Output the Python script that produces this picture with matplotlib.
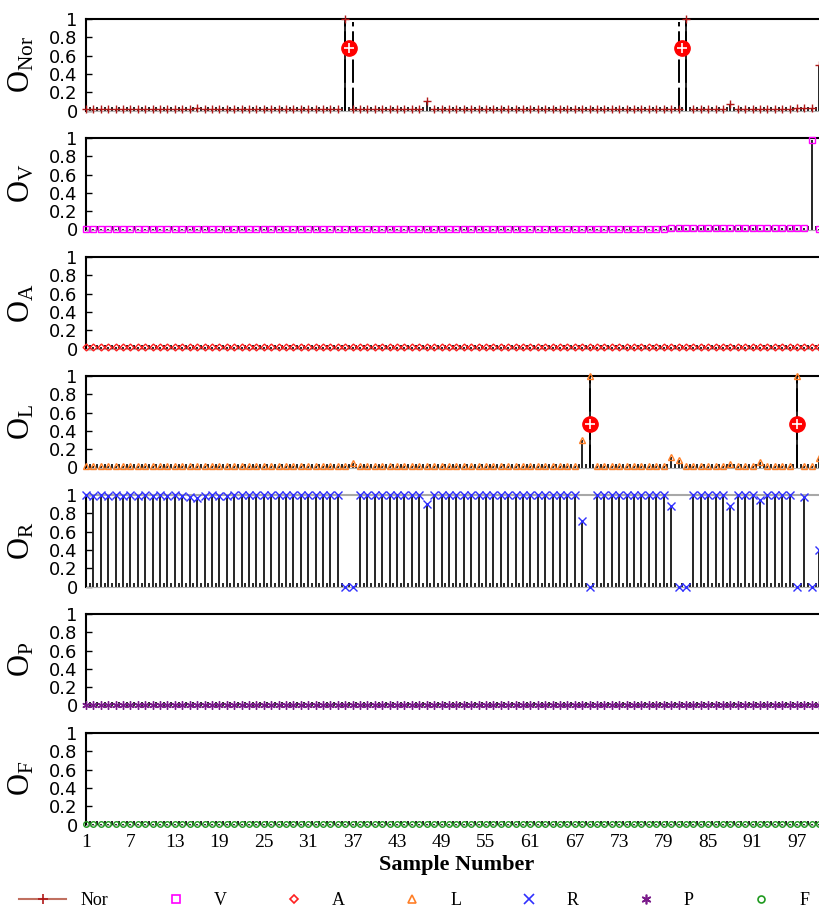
import matplotlib.pyplot as plt
import numpy as np
from matplotlib.lines import Line2D

plt.rcParams['font.family'] = ['Liberation Serif', 'DejaVu Serif']
plt.rcParams['mathtext.fontset'] = 'custom'
plt.rcParams['mathtext.rm'] = 'Liberation Serif'
plt.rcParams['mathtext.it'] = 'Liberation Serif'

# network outputs for each class, samples 1..100
samples = np.arange(1, 101)

nor_out = [0.02, 0.02, 0.02, 0.02, 0.02, 0.02, 0.02, 0.02, 0.02, 0.02,
           0.02, 0.02, 0.02, 0.02, 0.02, 0.03, 0.02, 0.02, 0.02, 0.02,
           0.02, 0.02, 0.02, 0.02, 0.02, 0.02, 0.02, 0.02, 0.02, 0.02,
           0.02, 0.02, 0.02, 0.02, 0.02, 1.00, 0.02, 0.02, 0.02, 0.02,
           0.02, 0.02, 0.02, 0.02, 0.02, 0.02, 0.10, 0.02, 0.02, 0.02,
           0.02, 0.02, 0.02, 0.02, 0.02, 0.02, 0.02, 0.02, 0.02, 0.02,
           0.02, 0.02, 0.02, 0.02, 0.02, 0.02, 0.02, 0.02, 0.02, 0.02,
           0.02, 0.02, 0.02, 0.02, 0.02, 0.02, 0.02, 0.02, 0.02, 0.02,
           0.02, 1.00, 0.02, 0.02, 0.02, 0.02, 0.02, 0.07, 0.02, 0.02,
           0.02, 0.02, 0.02, 0.02, 0.02, 0.02, 0.03, 0.03, 0.03, 0.50]

v_out = [0.01, 0.01, 0.01, 0.01, 0.01, 0.01, 0.01, 0.01, 0.01, 0.01,
         0.01, 0.01, 0.01, 0.01, 0.01, 0.01, 0.01, 0.01, 0.01, 0.01,
         0.01, 0.01, 0.01, 0.01, 0.01, 0.01, 0.01, 0.01, 0.01, 0.01,
         0.01, 0.01, 0.01, 0.01, 0.01, 0.01, 0.01, 0.01, 0.01, 0.01,
         0.01, 0.01, 0.01, 0.01, 0.01, 0.01, 0.01, 0.01, 0.01, 0.01,
         0.01, 0.01, 0.01, 0.01, 0.01, 0.01, 0.01, 0.01, 0.01, 0.01,
         0.01, 0.01, 0.01, 0.01, 0.01, 0.01, 0.01, 0.01, 0.01, 0.01,
         0.01, 0.01, 0.01, 0.01, 0.01, 0.01, 0.01, 0.01, 0.01, 0.02,
         0.02, 0.02, 0.02, 0.02, 0.02, 0.02, 0.02, 0.02, 0.02, 0.02,
         0.02, 0.02, 0.02, 0.02, 0.02, 0.02, 0.02, 0.02, 0.98, 0.01]

a_out = [0.02, 0.02, 0.02, 0.02, 0.02, 0.02, 0.02, 0.02, 0.02, 0.02,
         0.02, 0.02, 0.02, 0.02, 0.02, 0.02, 0.02, 0.02, 0.02, 0.02,
         0.02, 0.02, 0.02, 0.02, 0.02, 0.02, 0.02, 0.02, 0.02, 0.02,
         0.02, 0.02, 0.02, 0.02, 0.02, 0.02, 0.02, 0.02, 0.02, 0.02,
         0.02, 0.02, 0.02, 0.02, 0.02, 0.02, 0.02, 0.02, 0.02, 0.02,
         0.02, 0.02, 0.02, 0.02, 0.02, 0.02, 0.02, 0.02, 0.02, 0.02,
         0.02, 0.02, 0.02, 0.02, 0.02, 0.02, 0.02, 0.02, 0.02, 0.02,
         0.02, 0.02, 0.02, 0.02, 0.02, 0.02, 0.02, 0.02, 0.02, 0.02,
         0.02, 0.02, 0.02, 0.02, 0.02, 0.02, 0.02, 0.02, 0.02, 0.02,
         0.02, 0.02, 0.02, 0.02, 0.02, 0.02, 0.02, 0.02, 0.02, 0.02]

l_out = [0.02, 0.02, 0.02, 0.02, 0.02, 0.02, 0.02, 0.02, 0.02, 0.02,
         0.02, 0.02, 0.02, 0.02, 0.02, 0.02, 0.02, 0.02, 0.02, 0.02,
         0.02, 0.02, 0.02, 0.02, 0.02, 0.02, 0.02, 0.02, 0.02, 0.02,
         0.02, 0.02, 0.02, 0.02, 0.02, 0.02, 0.05, 0.02, 0.02, 0.02,
         0.02, 0.02, 0.02, 0.02, 0.02, 0.02, 0.02, 0.02, 0.02, 0.02,
         0.02, 0.02, 0.02, 0.02, 0.02, 0.02, 0.02, 0.02, 0.02, 0.02,
         0.02, 0.02, 0.02, 0.02, 0.02, 0.02, 0.02, 0.30, 1.00, 0.02,
         0.02, 0.02, 0.02, 0.02, 0.02, 0.02, 0.02, 0.02, 0.02, 0.12,
         0.08, 0.02, 0.02, 0.02, 0.02, 0.02, 0.02, 0.04, 0.02, 0.02,
         0.02, 0.06, 0.02, 0.02, 0.02, 0.02, 1.00, 0.02, 0.02, 0.10]

r_out = [1.00, 0.99, 1.00, 0.99, 1.00, 0.99, 1.00, 0.99, 1.00, 0.99,
         1.00, 0.99, 1.00, 0.99, 0.98, 0.97, 0.99, 1.00, 0.99, 0.99,
         1.00, 1.00, 1.00, 1.00, 1.00, 1.00, 1.00, 1.00, 1.00, 1.00,
         1.00, 1.00, 1.00, 1.00, 1.00, 0.00, 0.00, 1.00, 1.00, 1.00,
         1.00, 1.00, 1.00, 1.00, 1.00, 1.00, 0.90, 1.00, 1.00, 1.00,
         1.00, 1.00, 1.00, 1.00, 1.00, 1.00, 1.00, 1.00, 1.00, 1.00,
         1.00, 1.00, 1.00, 1.00, 1.00, 1.00, 1.00, 0.72, 0.00, 1.00,
         1.00, 1.00, 1.00, 1.00, 1.00, 1.00, 1.00, 1.00, 1.00, 0.88,
         0.00, 0.00, 1.00, 1.00, 1.00, 1.00, 1.00, 0.88, 1.00, 1.00,
         1.00, 0.95, 1.00, 1.00, 1.00, 1.00, 0.00, 0.98, 0.00, 0.40]

p_out = [0.01] * 100
f_out = [0.01] * 100

# misclassified samples: circled marks and dashed guide stems
nor_err_x = [36.5, 81.5]
nor_err_y = [0.68, 0.68]
nor_err_lines = [36, 37, 81, 82]
l_err_x = [69, 97]
l_err_y = [0.48, 0.48]
l_err_lines = [69, 97]

names = ['Nor', 'V', 'A', 'L', 'R', 'P', 'F']
outputs = [nor_out, v_out, a_out, l_out, r_out, p_out, f_out]
markers = ['+', 's', 'D', '^', 'x', (6, 2, 0), 'o']
colors = ['#b01818', '#ff00ff', '#ff2020', '#ff7f27', '#3030ff', '#7a1a8a', '#1f9a1f']
msizes = [6, 4.5, 3.5, 5, 6, 6, 4]
errors = {0: (nor_err_x, nor_err_y, nor_err_lines), 3: (l_err_x, l_err_y, l_err_lines)}

W, H = 820, 909
fig = plt.figure(figsize=(W / 100, H / 100), dpi=100)

for k in range(7):
    top = 19 + 119 * k
    ax = fig.add_axes([86 / W, 1 - (top + 91.5) / H, (W - 86) / W, 91.5 / H])
    vals = np.array(outputs[k])

    # short separator ticks between samples
    ax.vlines(samples[:-1] + 0.5, 0, 0.04, color='k', lw=1.2, zorder=2)
    ax.vlines(samples, 0, vals, color='k', lw=1.2, zorder=2)

    if k in errors:
        ex, ey, el = errors[k]
        ax.vlines(el, 0, 0.97, color='k', lw=1.4, linestyles=(0, (12, 2.5)), zorder=2)
        ax.plot(ex, ey, 'o', color='red', ms=11, mec='red', zorder=5)
        ax.plot(ex, ey, '+', color='white', ms=7, mew=1.2, zorder=6)

    mfc = 'none' if markers[k] in ('s', 'D', '^', 'o') else colors[k]
    ax.plot(samples, vals, ls='none', marker=markers[k], ms=msizes[k],
            mec=colors[k], mfc=mfc, mew=1.0, clip_on=False, zorder=4)

    ax.set_xlim(1, 100.1)
    ax.set_ylim(0, 1)
    ax.set_yticks([0, 0.2, 0.4, 0.6, 0.8, 1])
    ax.set_yticklabels(['0', '0.2', '0.4', '0.6', '0.8', '1'], fontsize=13,
                       family=['DejaVu Sans'])
    ax.tick_params(axis='y', direction='in', length=4, width=1, pad=6)
    ax.spines['right'].set_visible(False)
    ax.spines['left'].set_linewidth(1.5)
    ax.spines['top'].set_linewidth(1.5)
    ax.spines['bottom'].set_color('#b0b0b0')
    if names[k] == 'R':
        ax.spines['top'].set_color('#a8a8a8')
    ax.set_ylabel(r'$\mathrm{O_{%s}}$' % names[k], fontsize=22, rotation=90)
    ax.yaxis.set_label_coords(-0.068, 0.5)

    if k == 6:
        ax.set_xticks(np.arange(1, 100, 6))
        ax.tick_params(axis='x', length=0, labelsize=14, pad=7)
    else:
        ax.set_xticks([])

fig.text(457 / W, 1 - 865 / H, 'Sample Number', ha='center', va='center',
         fontsize=16, fontweight='bold')

handles = []
for k in range(7):
    mfc = 'none' if markers[k] in ('s', 'D', '^', 'o') else colors[k]
    ls = '-' if k == 0 else 'none'
    handles.append(Line2D([], [], ls=ls, color='#c07060', marker=markers[k],
                          ms=msizes[k] + 1, mec=colors[k], mfc=mfc, mew=1.2))
fig.legend(handles, names, loc='lower left', bbox_to_anchor=(0.01, -0.012, 0.99, 0.03),
           ncol=7, mode='expand', frameon=False, fontsize=13, handlelength=2.6,
           handletextpad=0.8, borderaxespad=0.2)

fig.savefig('out.png', dpi=100)
